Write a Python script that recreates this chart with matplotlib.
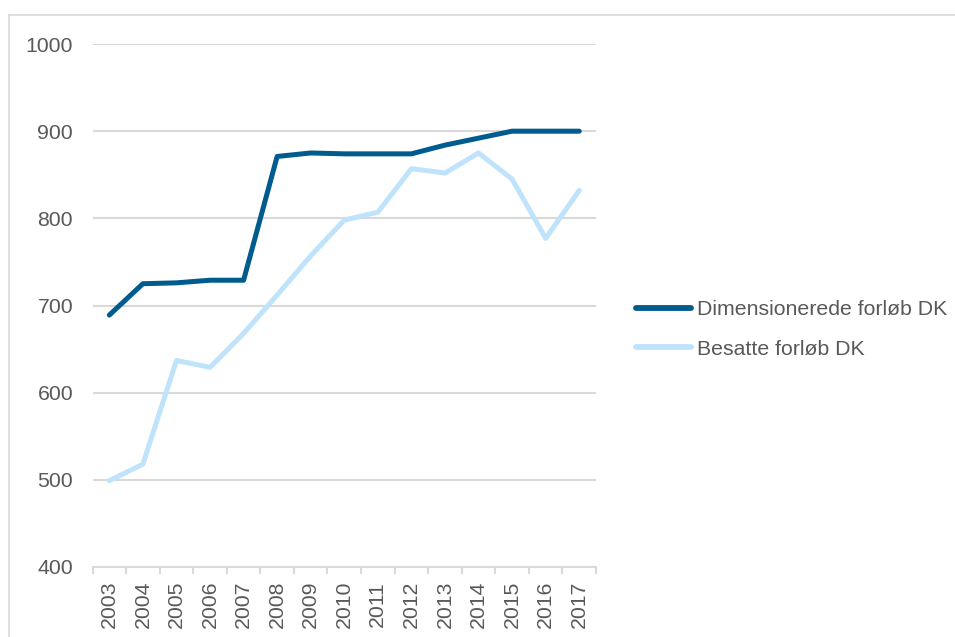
import numpy as np
import matplotlib
matplotlib.use('Agg')
import matplotlib.pyplot as plt
from matplotlib.lines import Line2D

plt.rcParams['font.family'] = ['Liberation Sans', 'DejaVu Sans']

years = ['2003', '2004', '2005', '2006', '2007', '2008', '2009', '2010',
         '2011', '2012', '2013', '2014', '2015', '2016', '2017']
dimensionerede = [689, 725, 726, 729, 729, 871, 875, 874, 874, 874, 884, 892, 900, 900, 900]
besatte = [499, 518, 637, 629, 668, 712, 757, 798, 807, 857, 852, 875, 845, 777, 832]

label_dim = 'Dimensionerede forløb DK'
label_bes = 'Besatte forløb DK'

TEXT = '#595959'
GRID = '#D9D9D9'
DARK = '#005B8F'
LIGHT = '#BFE3FB'
FS = 15.3

fig = plt.figure(figsize=(9.55, 6.37), dpi=100)
ax = fig.add_axes([0.0969, 0.1099, 0.5272, 0.8210])

x = np.arange(len(years))
ax.plot(x, dimensionerede, color=DARK, lw=3.6, solid_capstyle='round',
        solid_joinstyle='round', label=label_dim, zorder=3)
ax.plot(x, besatte, color=LIGHT, lw=3.6, solid_capstyle='round',
        solid_joinstyle='round', label=label_bes, zorder=3)

ax.set_xlim(-0.5, len(years) - 0.5)
ax.set_ylim(400, 1000)
ax.set_yticks(np.arange(400, 1001, 100))
ax.grid(axis='y', color=GRID, lw=1.5, zorder=0)
ax.set_axisbelow(True)

for s in ['top', 'right', 'left']:
    ax.spines[s].set_visible(False)
ax.spines['bottom'].set_color(GRID)
ax.spines['bottom'].set_linewidth(1.5)

ax.set_xticks(x)
ax.set_xticklabels(years, rotation=90)
ax.set_xticks(np.arange(-0.5, len(years)), minor=True)
ax.tick_params(axis='x', which='major', length=0, pad=10, labelsize=FS, labelcolor=TEXT)
ax.tick_params(axis='x', which='minor', length=5, width=1.5, color=GRID)
ax.tick_params(axis='y', length=0, pad=14, labelsize=FS, labelcolor=TEXT)

leg = fig.legend(loc='center left', bbox_to_anchor=(0.666, 0.4827), frameon=False,
                 fontsize=FS, handlelength=2.6, handletextpad=0.25,
                 labelspacing=0.95, borderpad=0, borderaxespad=0)
for t in leg.get_texts():
    t.set_color(TEXT)
for h in leg.legend_handles:
    h.set_linewidth(4.2)

# outer chart frame
fx = 9 / 955
fy = 1 - 15 / 637
fig.add_artist(Line2D([fx, fx], [0, fy], transform=fig.transFigure, color=GRID, lw=1.2))
fig.add_artist(Line2D([fx, 1], [fy, fy], transform=fig.transFigure, color=GRID, lw=1.2))

fig.savefig('out.png', dpi=100)
